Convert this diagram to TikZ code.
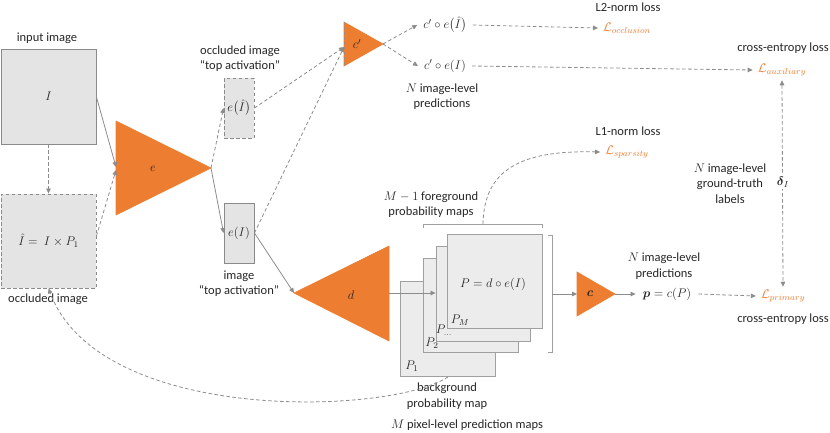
\RequirePackage{fix-cm}
\documentclass[tikz,border=0pt]{standalone}
\usepackage{amsmath}
\usepackage{fontspec}
\setmainfont{Carlito}
\usetikzlibrary{arrows.meta,calc}
\definecolor{org}{HTML}{ED7D31}
\definecolor{ln}{HTML}{8C8C8C}
\definecolor{bx}{HTML}{E4E4E4}
\definecolor{bxl}{HTML}{ECECEC}
\definecolor{bxd}{HTML}{8A8A8A}
\definecolor{bxs}{HTML}{A0A0A0}
\definecolor{txt}{HTML}{262626}
\tikzset{
  box/.style={draw=bxd, fill=bx, line width=0.9pt, inner sep=0pt},
  sbox/.style={draw=bxs, fill=bxl, line width=0.9pt, inner sep=0pt, minimum width=95pt, minimum height=95pt},
  arr/.style={draw=ln, line width=0.8pt, -{Triangle[length=5pt,width=4.5pt]}},
  darr/.style={arr, dash pattern=on 3.5pt off 2.5pt},
  plain/.style={draw=ln, line width=0.8pt},
  lbl/.style={font=\fontsize{12.5}{15}\selectfont, inner sep=0pt, text=txt},
  mth/.style={lbl, inner xsep=6pt},
  loss/.style={lbl, text=org, inner xsep=5pt},
  tri/.style={fill=org, draw=org, line width=0.6pt},
}
\begin{document}
\begin{tikzpicture}[x=1pt,y=-1pt]
\useasboundingbox (0,0) rectangle (830,432);

% ---------- input & occluded images ----------
\node[box, minimum width=95pt, minimum height=95pt] (I) at (48.5,96.5) {};
\node[lbl] (Ilbl) at (I.center) {$I$};
\node[lbl] (tin) at (47,38) {input image};
\node[box, dash pattern=on 3.5pt off 2.5pt, minimum width=95pt, minimum height=94pt] (occ) at (48.5,241) {};
\node[lbl] (occlbl) at (occ.center) {$\hat{I} =\ I \times P_1$};
\node[lbl] (tocc) at (48,299) {occluded image};

% ---------- encoder e ----------
\coordinate (eT) at (116,121);
\coordinate (eB) at (116,215);
\coordinate (eTip) at (211,168);
\coordinate (eIn1) at (116,167);
\coordinate (eIn2) at (116,170);
\fill[tri] (eT) -- (eB) -- (eTip) -- cycle;
\node[lbl] (elbl) at (153,169) {$e$};

% ---------- top activations ----------
\node[box, dash pattern=on 3.5pt off 2.5pt, minimum width=30pt, minimum height=60pt] (eIh) at (239,108) {};
\node[lbl] (eIhlbl) at (eIh.center) {$e\bigl(\hat{I}\bigr)$};
\node[lbl] (t1) at (240,51) {occluded image};
\node[lbl] (t2) at (240,66) {“top activation”};
\node[box, minimum width=30pt, minimum height=60pt] (eI) at (239,233) {};
\node[lbl] (eIlbl) at (eI.center) {$e(I)$};
\node[lbl] (t3) at (239,276) {image};
\node[lbl] (t4) at (239,291) {“top activation”};

% ---------- auxiliary classifier c' ----------
\coordinate (cpT) at (344,22);
\coordinate (cpB) at (344,66);
\coordinate (cpTip) at (383,44);
\coordinate (cpIn) at (344,47);
\fill[tri] (cpT) -- (cpB) -- (cpTip) -- cycle;
\draw[draw=ln!70!org, line width=0.7pt, dash pattern=on 3pt off 2pt] (cpT) -- (cpB);
\node[lbl] (cplbl) at (357,44) {$c'$};

\node[mth] (cpe1) at (445,25) {$c' \circ e\bigl(\hat{I}\bigr)$};
\node[mth] (cpe2) at (445,66) {$c' \circ e(I)$};
\node[lbl] (t5) at (442,89) {$N$ image-level};
\node[lbl] (t6) at (442,104) {predictions};

% ---------- losses ----------
\node[lbl] (t7) at (628,7) {L2-norm loss};
\node[loss] (Locc) at (627,28) {$\mathcal{L}_{occlusion}$};
\node[lbl] (t8) at (783,48) {cross-entropy loss};
\node[loss] (Laux) at (782,70) {$\mathcal{L}_{auxiliary}$};
\node[lbl] (t9) at (628,131) {L1-norm loss};
\node[loss] (Lsp) at (627,152) {$\mathcal{L}_{sparsity}$};
\node[loss] (Lpr) at (783,296) {$\mathcal{L}_{primary}$};
\node[lbl] (t10) at (783,319) {cross-entropy loss};
\node[lbl] (t11) at (730,169) {$N$ image-level};
\node[lbl] (t12) at (730,184) {ground-truth};
\node[lbl] (t13) at (730,199) {labels};

% ---------- decoder d ----------
\coordinate (dL) at (294,293);
\coordinate (dT) at (389,246);
\coordinate (dB) at (389,341);
\coordinate (dOut) at (389,293);
\fill[tri] (dL) -- (dT) -- (dB) -- cycle;
\node[lbl] (dlbl) at (351,295) {$d$};

% ---------- prediction maps ----------
\node[sbox] (P1) at (447.5,328.5) {};
\node[sbox, minimum height=94pt] (P2) at (470.5,305) {};
\node[sbox, minimum width=94pt] (Pd) at (483,293.5) {};
\node[sbox, minimum height=94pt] (PM) at (494.5,281) {};
\node[lbl] (lP1) at (412,366) {$P_1$};
\node[lbl] (lP2) at (432,343) {$P_2$};
\node[lbl] (lPd) at (444,330) {$P_{\dots}$};
\node[lbl] (lPM) at (460,320) {$P_M$};
\node[lbl] (Peq) at (493,284) {$P = d \circ e(I)$};
\node[lbl] (t14) at (431,197) {$M-1$ foreground};
\node[lbl] (t15) at (431,212) {probability maps};
\node[lbl] (t16) at (447,388) {background};
\node[lbl] (t17) at (447,404) {probability map};
\node[lbl] (t18) at (467,425) {$M$ pixel-level prediction maps};

% brackets
\draw[plain, draw=bxs] (423,228) -- (423,224) -- (542,224) -- (542,228);
\draw[plain, draw=bxs] (548,235) -- (552,235) -- (552,352) -- (548,352);
\coordinate (brT) at (483,224);
\coordinate (brR) at (552,294);
\coordinate (P1b) at (448,377);

% ---------- classifier c ----------
\coordinate (cT) at (577,272);
\coordinate (cB) at (577,316);
\coordinate (cTip) at (615,294);
\coordinate (cIn) at (577,294);
\fill[tri] (cT) -- (cB) -- (cTip) -- cycle;
\node[lbl] (clbl) at (590,294) {$\boldsymbol{c}$};
\node[lbl, inner xsep=7pt] (pnode) at (667,294) {$\boldsymbol{p} = c(P)$};
\node[lbl] (t19) at (664,258) {$N$ image-level};
\node[lbl] (t20) at (664,274) {predictions};

% ---------- connectors ----------
\draw[arr] (I.east |- 0,97) -- (eIn1);
\draw[darr] (occ.east |- 0,236) -- (eIn2);
\draw[darr] (I.south) -- (occ.north);
\draw[darr] (eTip) -- (eIh.west);
\draw[arr] (eTip) -- (eI.west);
\draw[darr] (eIh.east) -- (cpIn);
\draw[darr] (eI.east) -- (cpIn);
\draw[darr] (cpTip) -- (cpe1.west);
\draw[darr] (cpTip) -- (cpe2.west);
\draw[darr] (cpe1.east) -- (Locc.west);
\draw[darr] (cpe2.east) -- (Laux.west);
\draw[arr] (eI.east) -- (dL);
\draw[arr] (dOut) -- (Pd.west |- dOut);
\draw[arr] (brR) -- (cIn);
\draw[arr] (cTip) -- (pnode.west);
\draw[darr] (pnode.east) -- (Lpr.west);
\draw[darr, {Triangle[length=5pt,width=4.5pt]}-{Triangle[length=5pt,width=4.5pt]}] ([yshift=-4pt]Laux.south) -- ([yshift=3pt]Lpr.north);
\node[lbl, fill=white, inner sep=2pt] (delta) at (783,182) {$\boldsymbol{\delta}_I$};
\draw[darr] (brT) .. controls (484,170) and (520,150) .. (Lsp.west);
\draw[darr] (P1b) .. controls (390,415) and (100,425) .. (occ.south);
\end{tikzpicture}
\end{document}
